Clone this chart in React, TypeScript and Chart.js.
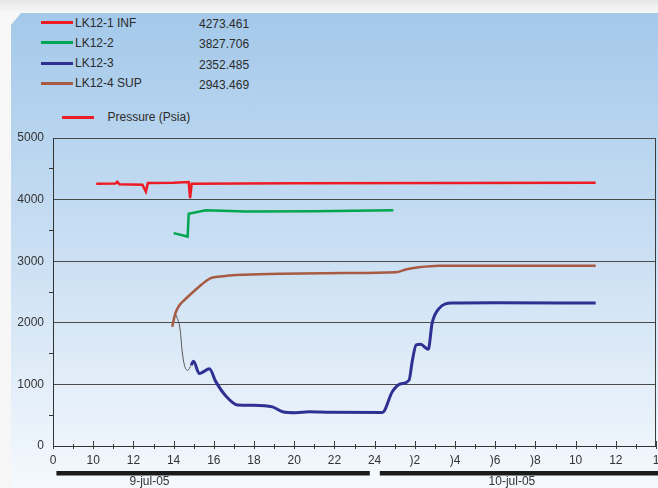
import React, { useEffect, useRef } from 'react';
import { Chart, registerables } from 'chart.js';

Chart.register(...registerables);

const FONT = '"Liberation Sans", Arial, Helvetica, sans-serif';

// ---- legend / series meta ----
const seriesNames = ['LK12-1 INF', 'LK12-2', 'LK12-3', 'LK12-4 SUP'];
const legendValues = ['4273.461', '3827.706', '2352.485', '2943.469'];
const seriesColors = ['#ed1c24', '#00a650', '#2e3192', '#a85a42'];
const pressureLabel = 'Pressure (Psia)';
const pressureColor = '#ed1c24';

// ---- axes ----
const xMin = 8;
const xMax = 38;
const xTickLabels = ['0', '10', '12', '14', '16', '18', '20', '22', '24', ')2', ')4', ')6', ')8', '10', '12', '1'];
const yMin = 0;
const yMax = 5000;

// ---- series (x = hours since 9-jul-05 00:00) ----
const infHours = [10.15, 11.1, 11.2, 11.3, 12.45, 12.62, 12.72, 14.0, 14.75, 14.82, 14.9, 20.0, 28.0, 35.0];
const infValues = [4258, 4262, 4290, 4248, 4240, 4130, 4268, 4275, 4285, 4025, 4258, 4265, 4268, 4273];

const lk2Hours = [14.0, 14.7, 14.75, 15.6, 17.6, 21.0, 24.93];
const lk2Values = [3456, 3400, 3770, 3826, 3805, 3812, 3828];

const connectorHours = [14.13, 14.33, 14.42, 14.54, 14.7, 14.87];
const connectorValues = [2125, 1880, 1555, 1310, 1228, 1310];

const lk3Hours = [14.87, 14.99, 15.28, 15.45, 15.78, 16.1, 16.6, 17.19, 17.93, 18.92, 19.42, 20.08, 20.75, 21.75, 24.39,
  24.88, 25.3, 25.71, 25.88, 26.07, 26.29, 26.67, 26.86, 27.2, 27.86, 30.0, 35.0];
const lk3Values = [1310, 1375, 1175, 1200, 1255, 1045, 812, 666, 662, 635, 555, 540, 555, 548, 545,
  880, 1010, 1065, 1390, 1640, 1650, 1570, 1990, 2230, 2320, 2325, 2320];

const supHours = [13.93, 14.09, 14.29, 14.54, 14.9, 15.28, 15.6, 15.94, 19.3, 22.5, 25.05, 25.6, 26.2, 27.2, 35.0];
const supValues = [1935, 2155, 2285, 2370, 2480, 2590, 2675, 2735, 2795, 2808, 2820, 2870, 2900, 2925, 2928];

// ---- day bars under the axis ----
const dayLabels = ['9-jul-05', '10-jul-05'];
const dayBarStart = [8.17, 24.26];
const dayBarEnd = [23.76, 38.6];
const dayLabelAt = [12.8, 30.83];

const toPoints = (hours: number[], values: number[]) => hours.map((h, i) => ({ x: h, y: values[i] }));

const decorPlugin = {
  id: 'decor',
  afterDraw(chart: any) {
    const ctx = chart.ctx;
    const { top, bottom, right } = chart.chartArea;
    const xs = chart.scales.x;
    ctx.save();
    ctx.strokeStyle = '#3c3c3c';
    ctx.lineWidth = 1;
    // right frame
    const rx = Math.round(right) - 0.5;
    ctx.beginPath();
    ctx.moveTo(rx, top);
    ctx.lineTo(rx, bottom);
    ctx.stroke();
    // x tick marks crossing the axis + labels
    ctx.font = `12px ${FONT}`;
    ctx.textAlign = 'center';
    ctx.textBaseline = 'middle';
    for (let h = xMin; h <= xMax; h++) {
      const px = Math.round(xs.getPixelForValue(h)) + 0.5;
      const major = h % 2 === 0;
      ctx.beginPath();
      ctx.moveTo(px, bottom - (major ? 5 : 2));
      ctx.lineTo(px, bottom + 3);
      ctx.stroke();
      if (major) {
        const label = xTickLabels[(h - xMin) / 2] ?? '';
        ctx.fillStyle = '#333';
        ctx.fillText(label, xs.getPixelForValue(h), bottom + 15);
      }
    }
    // day bars and labels
    for (let i = 0; i < dayLabels.length; i++) {
      const x0 = xs.getPixelForValue(dayBarStart[i]);
      const x1 = xs.getPixelForValue(dayBarEnd[i]);
      ctx.fillStyle = '#1b1b1b';
      ctx.fillRect(x0, 471, x1 - x0, 4.5);
      ctx.fillStyle = '#333';
      ctx.fillText(dayLabels[i], xs.getPixelForValue(dayLabelAt[i]), 481.5);
    }
    ctx.restore();
  },
};

export default function App() {
  const canvasRef = useRef<HTMLCanvasElement | null>(null);

  useEffect(() => {
    if (!canvasRef.current) return;
    const chart = new Chart(canvasRef.current, {
      type: 'line',
      data: {
        datasets: [
          {
            label: seriesNames[0],
            data: toPoints(infHours, infValues),
            borderColor: seriesColors[0],
            borderWidth: 2.5,
            pointRadius: 0,
            tension: 0,
          },
          {
            label: seriesNames[1],
            data: toPoints(lk2Hours, lk2Values),
            borderColor: seriesColors[1],
            borderWidth: 2.5,
            pointRadius: 0,
            tension: 0,
          },
          {
            label: 'connector',
            data: toPoints(connectorHours, connectorValues),
            borderColor: '#555',
            borderWidth: 1,
            pointRadius: 0,
            tension: 0.4,
            cubicInterpolationMode: 'monotone',
          },
          {
            label: seriesNames[2],
            data: toPoints(lk3Hours, lk3Values),
            borderColor: seriesColors[2],
            borderWidth: 3,
            pointRadius: 0,
            tension: 0.4,
            cubicInterpolationMode: 'monotone',
          },
          {
            label: seriesNames[3],
            data: toPoints(supHours, supValues),
            borderColor: seriesColors[3],
            borderWidth: 2.5,
            pointRadius: 0,
            tension: 0.4,
            cubicInterpolationMode: 'monotone',
          },
        ],
      },
      options: {
        animation: false,
        responsive: false,
        events: [],
        layout: { padding: { top: 138, right: 2, left: 0, bottom: 0 } },
        plugins: { legend: { display: false }, tooltip: { enabled: false } },
        scales: {
          x: {
            type: 'linear',
            min: xMin,
            max: xMax,
            afterFit: (s: any) => { s.height = 42; },
            ticks: { display: false, stepSize: 2, autoSkip: false, maxRotation: 0 },
            grid: { display: true, drawOnChartArea: false, drawTicks: false },
            border: { display: true, color: '#333', width: 1 },
          },
          y: {
            type: 'linear',
            min: yMin,
            max: yMax,
            afterFit: (s: any) => { s.width = 53; },
            ticks: {
              stepSize: 500,
              autoSkip: false,
              padding: 5,
              color: '#333',
              font: { family: FONT, size: 12 },
              callback: (v: any) => (Number(v) % 1000 === 0 ? String(v) : ''),
            },
            grid: {
              drawOnChartArea: true,
              drawTicks: true,
              tickLength: 4,
              lineWidth: 1,
              color: (c: any) => (c.tick && c.tick.value % 1000 === 0 ? '#4a4a4a' : 'rgba(0,0,0,0)'),
              tickColor: (c: any) => (c.tick && c.tick.value % 1000 === 0 ? 'rgba(0,0,0,0)' : '#333'),
            },
            border: { display: true, color: '#333', width: 1 },
          },
        },
      },
      plugins: [decorPlugin],
    } as any);
    return () => chart.destroy();
  }, []);

  const rowY = (i: number) => 22.7 + 20.2 * i;

  return (
    <div
      style={{
        position: 'fixed',
        left: 0,
        top: 0,
        width: 658,
        height: 488,
        overflow: 'hidden',
        background: 'linear-gradient(to bottom, #e6e6e6 0px, #f8f8f8 13px, #f6f6f6 100%)',
        fontFamily: FONT,
      }}
    >
      <div
        style={{
          position: 'absolute',
          left: 11,
          top: 13,
          right: 0,
          bottom: 0,
          background: 'linear-gradient(to bottom, #a4c9ea 0%, #cadff3 50%, #f5f9fd 100%)',
          clipPath: 'polygon(0 12px, 10px 0, 100% 0, 100% 100%, 0 100%)',
        }}
      />
      {seriesNames.map((name, i) => (
        <React.Fragment key={name}>
          <div
            style={{
              position: 'absolute',
              left: 41,
              top: rowY(i) - 1.5,
              width: 32,
              height: 3,
              background: seriesColors[i],
            }}
          />
          <div
            style={{
              position: 'absolute',
              left: 75,
              top: rowY(i) - 7,
              height: 14,
              lineHeight: '14px',
              fontSize: 12,
              color: '#2b2b2b',
              whiteSpace: 'nowrap',
            }}
          >
            {name}
          </div>
          <div
            style={{
              position: 'absolute',
              left: 199,
              top: rowY(i) - 5.5,
              height: 14,
              lineHeight: '14px',
              fontSize: 12,
              color: '#2b2b2b',
              whiteSpace: 'nowrap',
            }}
          >
            {legendValues[i]}
          </div>
        </React.Fragment>
      ))}
      <div
        style={{ position: 'absolute', left: 62, top: 115.5, width: 32, height: 3, background: pressureColor }}
      />
      <div
        style={{
          position: 'absolute',
          left: 107.5,
          top: 110,
          height: 14,
          lineHeight: '14px',
          fontSize: 12,
          color: '#2b2b2b',
          whiteSpace: 'nowrap',
        }}
      >
        {pressureLabel}
      </div>
      <canvas
        ref={canvasRef}
        width={658}
        height={488}
        style={{ position: 'absolute', left: 0, top: 0, width: 658, height: 488 }}
      />
    </div>
  );
}
